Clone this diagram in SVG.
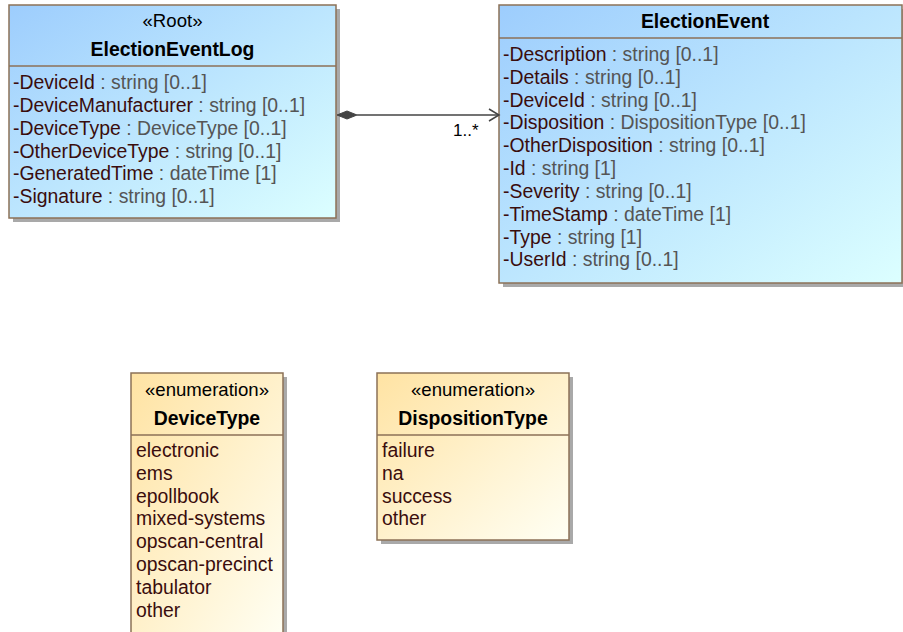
<svg xmlns="http://www.w3.org/2000/svg" width="903" height="632" viewBox="0 0 903 632">
<defs>
<linearGradient id="gBlue" x1="0" y1="0" x2="1" y2="1">
<stop offset="0" stop-color="#9dcdfd"/>
<stop offset="1" stop-color="#dcffff"/>
</linearGradient>
<linearGradient id="gYel" x1="0" y1="0" x2="1" y2="1">
<stop offset="0" stop-color="#ffe3a3"/>
<stop offset="1" stop-color="#fffff4"/>
</linearGradient>
</defs>
<style>
text{font-family:"Liberation Sans",Arial,sans-serif;font-size:19.4px}
.box{stroke:#8c7157;stroke-width:1.5}
.sh{fill:#a9a9a9}
.div{stroke:#8c7157;stroke-width:1.5}
.n{fill:#3a0d0d}
.t{fill:#555555}
.title{font-weight:bold;fill:#000;text-anchor:middle}
.st{fill:#000;text-anchor:middle;font-size:18.6px}
</style>
<rect width="903" height="632" fill="#ffffff"/>
<g id="ElectionEventLog">
<rect class="sh" x="13" y="9" width="327" height="213"/>
<rect class="box" x="9" y="5" width="327" height="213" fill="url(#gBlue)"/>
<line class="div" x1="9" y1="66" x2="336" y2="66"/>
<text class="st" x="172.5" y="27">«Root»</text>
<text class="title" x="172.5" y="56">ElectionEventLog</text>
<text x="13" y="89"><tspan class="n">-DeviceId</tspan><tspan class="t"> : string [0..1]</tspan></text>
<text x="13" y="112"><tspan class="n">-DeviceManufacturer</tspan><tspan class="t"> : string [0..1]</tspan></text>
<text x="13" y="135"><tspan class="n">-DeviceType</tspan><tspan class="t"> : DeviceType [0..1]</tspan></text>
<text x="13" y="158"><tspan class="n">-OtherDeviceType</tspan><tspan class="t"> : string [0..1]</tspan></text>
<text x="13" y="180"><tspan class="n">-GeneratedTime</tspan><tspan class="t"> : dateTime [1]</tspan></text>
<text x="13" y="203"><tspan class="n">-Signature</tspan><tspan class="t"> : string [0..1]</tspan></text>
</g>
<g id="ElectionEvent">
<rect class="sh" x="503" y="9" width="404" height="278"/>
<rect class="box" x="499" y="5" width="403" height="278" fill="url(#gBlue)"/>
<line class="div" x1="499" y1="38" x2="902" y2="38"/>
<text class="title" x="705" y="28">ElectionEvent</text>
<text x="503" y="61"><tspan class="n">-Description</tspan><tspan class="t"> : string [0..1]</tspan></text>
<text x="503" y="84"><tspan class="n">-Details</tspan><tspan class="t"> : string [0..1]</tspan></text>
<text x="503" y="107"><tspan class="n">-DeviceId</tspan><tspan class="t"> : string [0..1]</tspan></text>
<text x="503" y="129"><tspan class="n">-Disposition</tspan><tspan class="t"> : DispositionType [0..1]</tspan></text>
<text x="503" y="152"><tspan class="n">-OtherDisposition</tspan><tspan class="t"> : string [0..1]</tspan></text>
<text x="503" y="175"><tspan class="n">-Id</tspan><tspan class="t"> : string [1]</tspan></text>
<text x="503" y="198"><tspan class="n">-Severity</tspan><tspan class="t"> : string [0..1]</tspan></text>
<text x="503" y="221"><tspan class="n">-TimeStamp</tspan><tspan class="t"> : dateTime [1]</tspan></text>
<text x="503" y="244"><tspan class="n">-Type</tspan><tspan class="t"> : string [1]</tspan></text>
<text x="503" y="266"><tspan class="n">-UserId</tspan><tspan class="t"> : string [0..1]</tspan></text>
</g>
<g id="DeviceType">
<rect class="sh" x="135" y="377" width="152" height="270"/>
<rect class="box" x="131" y="373" width="152" height="270" fill="url(#gYel)"/>
<line class="div" x1="131" y1="435" x2="283" y2="435"/>
<text class="st" x="207" y="396">«enumeration»</text>
<text class="title" x="207" y="425">DeviceType</text>
<text class="n" x="136" y="457">electronic</text>
<text class="n" x="136" y="480">ems</text>
<text class="n" x="136" y="503">epollbook</text>
<text class="n" x="136" y="525">mixed-systems</text>
<text class="n" x="136" y="548">opscan-central</text>
<text class="n" x="136" y="571">opscan-precinct</text>
<text class="n" x="136" y="594">tabulator</text>
<text class="n" x="136" y="617">other</text>
</g>
<g id="DispositionType">
<rect class="sh" x="381" y="377" width="192" height="167"/>
<rect class="box" x="377" y="373" width="192" height="167" fill="url(#gYel)"/>
<line class="div" x1="377" y1="435" x2="569" y2="435"/>
<text class="st" x="473" y="396">«enumeration»</text>
<text class="title" x="473" y="425">DispositionType</text>
<text class="n" x="382" y="457">failure</text>
<text class="n" x="382" y="480">na</text>
<text class="n" x="382" y="503">success</text>
<text class="n" x="382" y="525">other</text>
</g>
<g id="connectors">
<line x1="357" y1="115" x2="499" y2="115" stroke="#444" stroke-width="1.5"/>
<polygon points="337,115 347,111 357,115 347,119" fill="#444" stroke="#444" stroke-width="1"/>
<polyline points="489,109 499,115 489,121" fill="none" stroke="#444" stroke-width="1.5"/>
<text x="453" y="136" style="font-size:17px" fill="#000">1..*</text>
</g>
</svg>
